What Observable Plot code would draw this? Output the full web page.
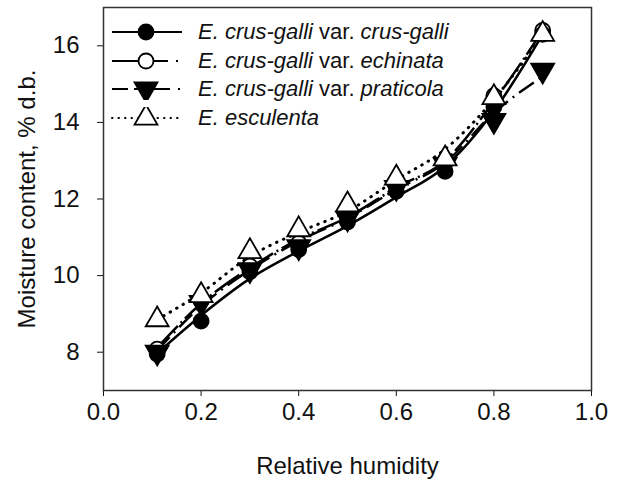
<!DOCTYPE html>
<html><head><meta charset="utf-8">
<script src="https://cdn.jsdelivr.net/npm/d3@7"></script>
<script src="https://cdn.jsdelivr.net/npm/@observablehq/plot@0.6"></script>
<style>
body{margin:0;background:#fff;font-family:"Liberation Sans",Arial,sans-serif;}
#wrap{position:relative;width:620px;height:483px;}
#legend{position:absolute;left:110px;top:18px;font-size:22px;color:#111;}
.row{display:flex;align-items:center;height:28.5px;white-space:nowrap;}
.row svg{margin-right:16px;flex:none;}
</style></head>
<body><div id="wrap"><div id="legend"></div></div>
<script>
// Relative humidity (x)
const rh = [0.11, 0.2, 0.3, 0.4, 0.5, 0.6, 0.7, 0.8, 0.9];
// Measured moisture content, % d.b. per variety (markers)
const crusGalli = [7.95, 8.81, 10.1, 10.68, 11.4, 12.2, 12.72, 14.4, 16.3];
const echinata  = [8.08, 9.35, 10.25, 10.85, 11.55, 12.35, 13.0, 14.7, 16.4];
const praticola = [8.0, 9.3, 10.15, 10.75, 11.5, 12.3, 12.9, 14.05, 15.36];
const esculenta = [8.85, 9.48, 10.63, 11.2, 11.85, 12.55, 13.05, 14.65, 16.3];
// Fitted model curves at the same humidities
const crusGalliFit = [7.97, 8.96, 9.92, 10.64, 11.3, 12.05, 12.85, 14.3, 16.3];
const echinataFit  = [8.12, 9.27, 10.2, 10.95, 11.52, 12.3, 13.0, 14.55, 16.4];
const praticolaFit = [8.05, 9.2, 10.15, 10.9, 11.5, 12.25, 12.95, 14.25, 15.2];
const esculentaFit = [8.85, 9.55, 10.5, 11.13, 11.68, 12.5, 13.3, 14.6, 16.3];
// Tick labels
const xTicks = [0, 0.2, 0.4, 0.6, 0.8, 1.0];
const yTicks = [8, 10, 12, 14, 16];

const series = [
  {key:"echinata", values:echinata, fit:echinataFit, symbol:"circle", fill:"white", rotate:0, dash:"30,4,2,4",
   html:"<i>E. crus-galli</i> var. <i>echinata</i>"},
  {key:"crusgalli", values:crusGalli, fit:crusGalliFit, symbol:"circle", fill:"black", rotate:0, dash:null,
   html:"<i>E. crus-galli</i> var. <i>crus-galli</i>"},
  {key:"praticola", values:praticola, fit:praticolaFit, symbol:"triangle", fill:"black", rotate:180, dash:"18,6,2,6",
   html:"<i>E. crus-galli</i> var. <i>praticola</i>"},
  {key:"esculenta", values:esculenta, fit:esculentaFit, symbol:"triangle", fill:"white", rotate:0, dash:"0.5,7",
   html:"<i>E. esculenta</i>"}
];
const tableOf = (s, arr) => rh.map((x, i) => ({x, y: arr[i]}));

const marks = [];
for (const s of series) {
  marks.push(Plot.line(tableOf(s, s.fit), {x:"x", y:"y", curve:"monotone-x", stroke:"black",
    strokeWidth: s.key==="esculenta" ? 3 : 2.5,
    strokeDasharray: s.dash || undefined, strokeLinecap: s.key==="esculenta" ? "round" : "butt"}));
}
for (const s of series) {
  marks.push(Plot.dot(tableOf(s, s.values), {x:"x", y:"y", symbol:()=>s.symbol, r: s.symbol==="triangle" ? 8.5 : 7.5,
    fill:s.fill, stroke:"black", strokeWidth:1.8, rotate:s.rotate}));
}
marks.push(Plot.frame({stroke:"#333", strokeWidth:1.5}));

const chart = Plot.plot({
  width:620, height:483,
  marginLeft:103, marginRight:29, marginTop:7, marginBottom:93,
  style:{fontSize:"24px", fontFamily:"'Liberation Sans', Arial, sans-serif", color:"#111", background:"white"},
  x:{domain:[0,1], ticks:xTicks, tickFormat:d3.format(".1f"), tickSize:6, tickPadding:6,
     label:"Relative humidity", labelAnchor:"center", labelOffset:83, labelArrow:"none"},
  y:{domain:[7,17], ticks:yTicks, tickSize:6, tickPadding:18,
     label:"Moisture content, % d.b.", labelAnchor:"center", labelOffset:86, labelArrow:"none"},
  symbol:{type:"identity"},
  marks
});
document.getElementById("wrap").prepend(chart);

// Legend (in the upper-left of the plot)
const order = ["crusgalli","echinata","praticola","esculenta"];
const leg = document.getElementById("legend");
const legDashes = {crusgalli:null, echinata:"56,8,2,30", praticola:"16,6,36,8,2,30", esculenta:"0.5,6"};
for (const k of order) {
  const s = series.find(d => d.key === k);
  const row = document.createElement("div");
  row.className = "row";
  const sym = d3.create("svg").attr("width",72).attr("height",22);
  sym.append("line").attr("x1",2).attr("x2",72).attr("y1",11).attr("y2",11)
    .attr("stroke","black").attr("stroke-width",2)
    .attr("stroke-dasharray", legDashes[k])
    .attr("stroke-linecap", k==="esculenta" ? "round" : "butt");
  const path = d3.symbol(s.symbol==="circle" ? d3.symbolCircle : d3.symbolTriangle,
     Math.PI * (s.symbol==="triangle" ? 8.5 : 7.5) ** 2)();
  sym.append("path").attr("d", path)
    .attr("transform", `translate(36,11) rotate(${s.rotate})`)
    .attr("fill", s.fill).attr("stroke","black").attr("stroke-width",1.8);
  row.appendChild(sym.node());
  const t = document.createElement("span");
  t.innerHTML = s.html;
  row.appendChild(t);
  leg.appendChild(row);
}
</script>
</body></html>
